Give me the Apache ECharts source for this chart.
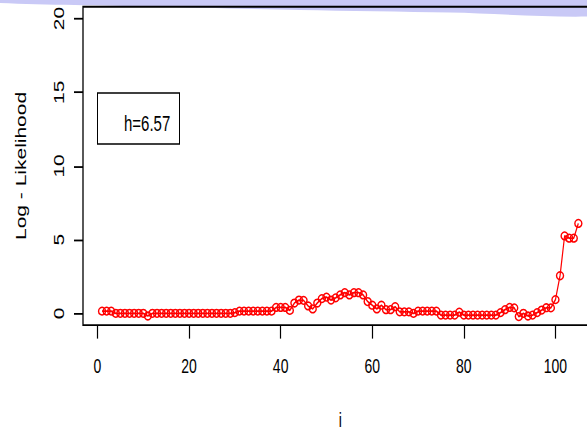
<!DOCTYPE html>
<html>
<head>
<meta charset="utf-8">
<script src="https://cdn.jsdelivr.net/npm/echarts@6/dist/echarts.min.js"></script>
<style>
  html, body { margin: 0; padding: 0; background: #fff; }
  #wrap { width: 587px; height: 430px; position: relative; overflow: hidden; background: #fff; }
  /* the reference plot is stretched vertically, so draw short and scale it;
     it is also wider than the page because the right edge of the box is cut off */
  #main { position: absolute; left: 0; top: 0; width: 610px; height: 287px; transform: scaleY(1.4983); transform-origin: 0 0; }
</style>
</head>
<body>
<div id="wrap"><div id="main"></div></div>
<script>
// log-likelihood value for i = 1 .. 105
const logLik = [
  0.15, 0.15, 0.15, 0.0, 0.0, 0.0, 0.0, 0.0, 0.0, 0.0,
  -0.18, 0.0, 0.0, 0.0, 0.0, 0.0, 0.0, 0.0, 0.0, 0.0,
  0.0, 0.0, 0.0, 0.0, 0.0, 0.0, 0.0, 0.0, 0.0, 0.05,
  0.15, 0.15, 0.15, 0.15, 0.15, 0.15, 0.15, 0.15, 0.4, 0.4,
  0.4, 0.2, 0.7, 0.9, 0.88, 0.5, 0.3, 0.7, 1.0, 1.1,
  0.9, 1.05, 1.25, 1.4, 1.25, 1.4, 1.4, 1.25, 0.8, 0.55,
  0.3, 0.55, 0.25, 0.25, 0.45, 0.1, 0.1, 0.1, 0.0, 0.15,
  0.15, 0.15, 0.15, 0.15, -0.12, -0.12, -0.12, -0.12, 0.08, -0.12,
  -0.12, -0.12, -0.12, -0.12, -0.12, -0.12, -0.12, 0.05, 0.25, 0.4,
  0.37, -0.22, 0.0, -0.18, -0.12, 0.05, 0.22, 0.38, 0.37, 0.93,
  2.55, 5.25, 5.1, 5.1, 6.1
]
const xTicks = [0, 20, 40, 60, 80, 100]
const yTicks = [0, 5, 10, 15, 20]
const legendText = 'h=6.57'

const SY = 1.4983 // vertical stretch of the page
const font = 'Liberation Sans, Arial, sans-serif'

const myChart = echarts.init(document.querySelector('#main'), null, { renderer: 'svg' })
const option = {
  animation: false,
  backgroundColor: '#fff',
  // legend-like box in the top left
  title: {
    text: legendText,
    left: 97,
    top: 92.3 / SY,
    borderColor: '#000',
    borderWidth: 1,
    padding: [13, 9, 7, 27],
    textStyle: { fontFamily: font, fontSize: 15, fontWeight: 'normal', color: '#000' }
  },
  // slide decoration band along the top
  graphic: [
    {
      type: 'polygon',
      z: -10,
      shape: {
        points: [[0, 0], [610, 0], [610, 15.5 / SY], [450, 12.5 / SY], [300, 10 / SY], [150, 6.5 / SY], [0, 3 / SY]],
        smooth: 0.3
      },
      style: { fill: '#c9c9f6' }
    }
  ],
  grid: {
    left: 83,
    right: 12.6,
    top: 4.5,
    bottom: 70,
    outerBoundsMode: 'none',
    show: true,
    borderColor: '#000',
    borderWidth: 1.3
  },
  xAxis: {
    type: 'value',
    min: -3.16,
    max: 109.16,
    name: 'i',
    nameLocation: 'middle',
    nameGap: 56,
    nameTextStyle: { fontFamily: font, fontSize: 14, color: '#000' },
    axisLine: { show: false, onZero: false },
    axisTick: { show: true, inside: false, length: 9, customValues: xTicks, lineStyle: { color: '#000', width: 1.2 } },
    axisLabel: { customValues: xTicks, margin: 20, fontFamily: font, fontSize: 14, color: '#000' },
    splitLine: { show: false }
  },
  yAxis: {
    type: 'value',
    min: -0.8,
    max: 20.8,
    name: 'Log - Likelihood',
    nameLocation: 'middle',
    nameRotate: 90,
    nameGap: 55,
    nameTextStyle: { fontFamily: font, fontSize: 14, color: '#000' },
    axisLine: { show: false, onZero: false },
    axisTick: { show: true, inside: false, length: 9, customValues: yTicks, lineStyle: { color: '#000', width: 1.2 } },
    axisLabel: { customValues: yTicks, rotate: 90, margin: 17, fontFamily: font, fontSize: 14, color: '#000' },
    splitLine: { show: false }
  },
  series: [
    {
      name: 'Log - Likelihood',
      type: 'line',
      data: logLik.map((v, k) => [k + 1, v]),
      symbol: 'circle',
      symbolSize: [7, 5.1],
      itemStyle: { color: 'rgba(0,0,0,0)', borderColor: '#ff0000', borderWidth: 1.2 },
      lineStyle: { color: '#ff0000', width: 1.2 }
    }
  ]
}
myChart.setOption(option)
</script>
</body>
</html>
